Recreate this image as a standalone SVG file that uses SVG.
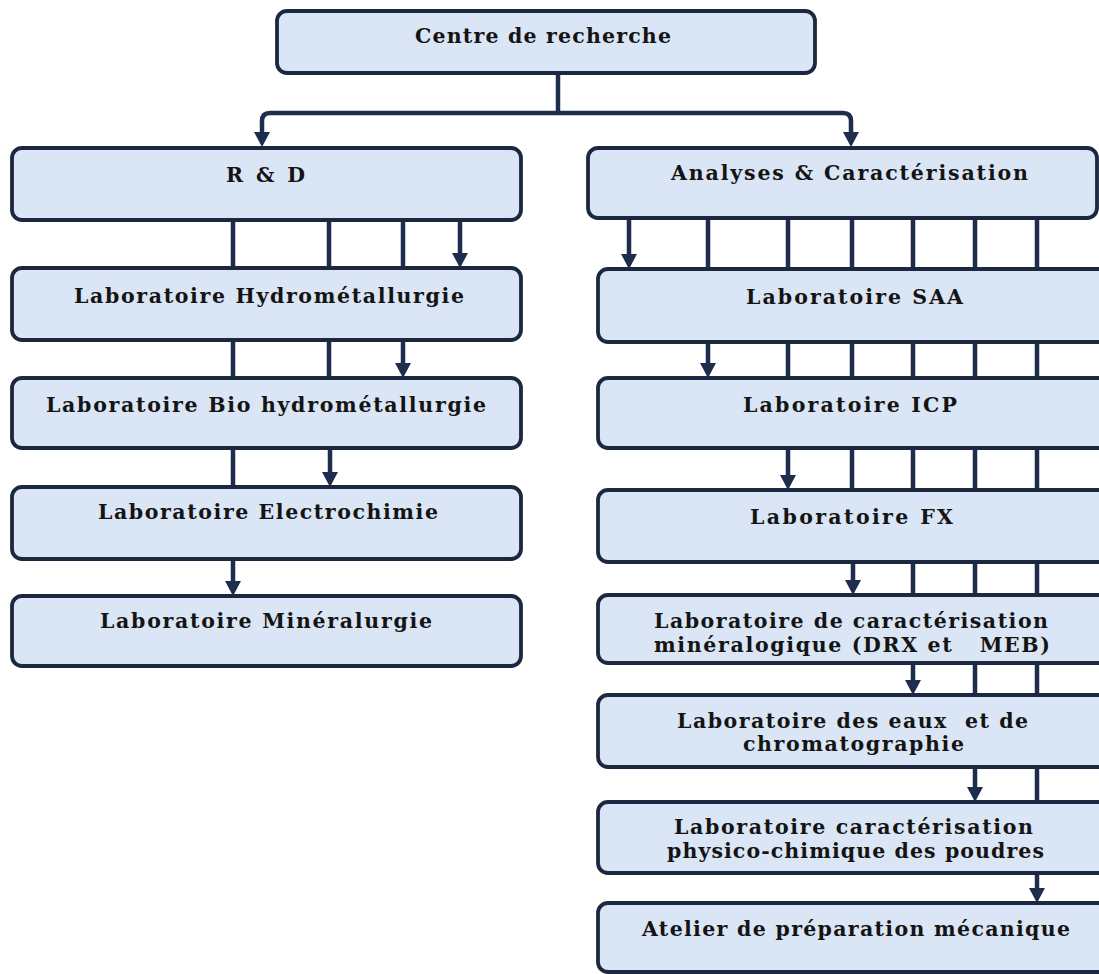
<svg xmlns="http://www.w3.org/2000/svg" width="1099" height="974" viewBox="0 0 1099 974">
<style>
.box{fill:#dae6f5;stroke:#1c2740;stroke-width:3.8}
.lbl{font-family:"DejaVu Serif","Liberation Serif",serif;font-weight:bold;font-size:20.5px;fill:#141414;text-anchor:middle;white-space:pre}
.con{fill:none;stroke:#1e2d4d;stroke-width:4.5}
.ah{fill:#1e2d4d}
</style>
<rect width="1099" height="974" fill="#ffffff"/>

<g id="connectors">
<path class="con" d="M558,73 V113"/>
<path class="con" d="M262,134 V121 Q262,113 270,113 H843 Q851,113 851,121 V134"/>
<path class="ah" d="M254,132 L270,132 L262,147 Z"/>
<path class="ah" d="M843,132 L859,132 L851,147 Z"/>

<path class="con" d="M233,220 V268 M329,220 V268 M403,220 V268 M460,220 V254"/>
<path class="ah" d="M452,253 L468,253 L460,268 Z"/>
<path class="con" d="M233,340 V378 M329,340 V378 M403,340 V364"/>
<path class="ah" d="M395,363 L411,363 L403,378 Z"/>
<path class="con" d="M233,448 V487 M330,448 V473"/>
<path class="ah" d="M322,472 L338,472 L330,487 Z"/>
<path class="con" d="M233,559 V582"/>
<path class="ah" d="M225,581 L241,581 L233,596 Z"/>

<path class="con" d="M708,218 V269 M788,218 V269 M852,218 V269 M913,218 V269 M975,218 V269 M1037,218 V269 M629,218 V255"/>
<path class="ah" d="M621,254 L637,254 L629,269 Z"/>
<path class="con" d="M788,342 V378 M852,342 V378 M913,342 V378 M975,342 V378 M1037,342 V378 M708,342 V364"/>
<path class="ah" d="M700,363 L716,363 L708,378 Z"/>
<path class="con" d="M852,448 V490 M913,448 V490 M975,448 V490 M1037,448 V490 M788,448 V476"/>
<path class="ah" d="M780,475 L796,475 L788,490 Z"/>
<path class="con" d="M913,562 V595 M975,562 V595 M1037,562 V595 M853,562 V581"/>
<path class="ah" d="M845,580 L861,580 L853,595 Z"/>
<path class="con" d="M975,663 V695 M1037,663 V695 M913,663 V681"/>
<path class="ah" d="M905,680 L921,680 L913,695 Z"/>
<path class="con" d="M1037,767 V802 M975,767 V788"/>
<path class="ah" d="M967,787 L983,787 L975,802 Z"/>
<path class="con" d="M1037,873 V889"/>
<path class="ah" d="M1029,888 L1045,888 L1037,903 Z"/>
</g>

<g id="n-centre">
<rect class="box" x="277" y="11" width="538" height="62" rx="10"/>
<text class="lbl" x="543" y="43" textLength="256" lengthAdjust="spacing">Centre de recherche</text>
</g>
<g id="n-rd">
<rect class="box" x="12" y="148" width="509" height="72" rx="10"/>
<text class="lbl" x="265.5" y="182" textLength="79" lengthAdjust="spacing">R &amp; D</text>
</g>
<g id="n-analyses">
<rect class="box" x="588" y="148" width="509" height="70" rx="10"/>
<text class="lbl" x="849.5" y="180" textLength="357" lengthAdjust="spacing">Analyses &amp; Caractérisation</text>
</g>
<g id="n-hydro">
<rect class="box" x="12" y="268" width="509" height="72" rx="10"/>
<text class="lbl" x="269" y="303" textLength="390" lengthAdjust="spacing">Laboratoire Hydrométallurgie</text>
</g>
<g id="n-bio">
<rect class="box" x="12" y="378" width="509" height="70" rx="10"/>
<text class="lbl" x="266" y="412" textLength="440" lengthAdjust="spacing">Laboratoire Bio hydrométallurgie</text>
</g>
<g id="n-electro">
<rect class="box" x="12" y="487" width="509" height="72" rx="10"/>
<text class="lbl" x="268" y="519" textLength="340" lengthAdjust="spacing">Laboratoire Electrochimie</text>
</g>
<g id="n-mineral">
<rect class="box" x="12" y="596" width="509" height="70" rx="10"/>
<text class="lbl" x="266" y="628" textLength="332" lengthAdjust="spacing">Laboratoire Minéralurgie</text>
</g>
<g id="n-saa">
<rect class="box" x="598" y="269" width="520" height="73" rx="10"/>
<text class="lbl" x="854.5" y="304" textLength="217" lengthAdjust="spacing">Laboratoire SAA</text>
</g>
<g id="n-icp">
<rect class="box" x="598" y="378" width="520" height="70" rx="10"/>
<text class="lbl" x="850" y="412" textLength="214" lengthAdjust="spacing">Laboratoire ICP</text>
</g>
<g id="n-fx">
<rect class="box" x="598" y="490" width="520" height="72" rx="10"/>
<text class="lbl" x="851.5" y="524" textLength="203" lengthAdjust="spacing">Laboratoire FX</text>
</g>
<g id="n-drx">
<rect class="box" x="598" y="595" width="520" height="68" rx="10"/>
<text class="lbl" x="851" y="628" textLength="394" lengthAdjust="spacing">Laboratoire de caractérisation</text>
<text class="lbl" x="852" y="652" textLength="396" lengthAdjust="spacing">minéralogique (DRX et   MEB)</text>
</g>
<g id="n-eaux">
<rect class="box" x="598" y="695" width="520" height="72" rx="10"/>
<text class="lbl" x="852.5" y="728" textLength="351" lengthAdjust="spacing">Laboratoire des eaux  et de</text>
<text class="lbl" x="853.5" y="751" textLength="221" lengthAdjust="spacing">chromatographie</text>
</g>
<g id="n-physico">
<rect class="box" x="598" y="802" width="520" height="71" rx="10"/>
<text class="lbl" x="853.5" y="834" textLength="359" lengthAdjust="spacing">Laboratoire caractérisation</text>
<text class="lbl" x="855.5" y="858" textLength="377" lengthAdjust="spacing">physico-chimique des poudres</text>
</g>
<g id="n-atelier">
<rect class="box" x="598" y="903" width="520" height="69" rx="10"/>
<text class="lbl" x="856" y="936" textLength="428" lengthAdjust="spacing">Atelier de préparation mécanique</text>
</g>
</svg>
